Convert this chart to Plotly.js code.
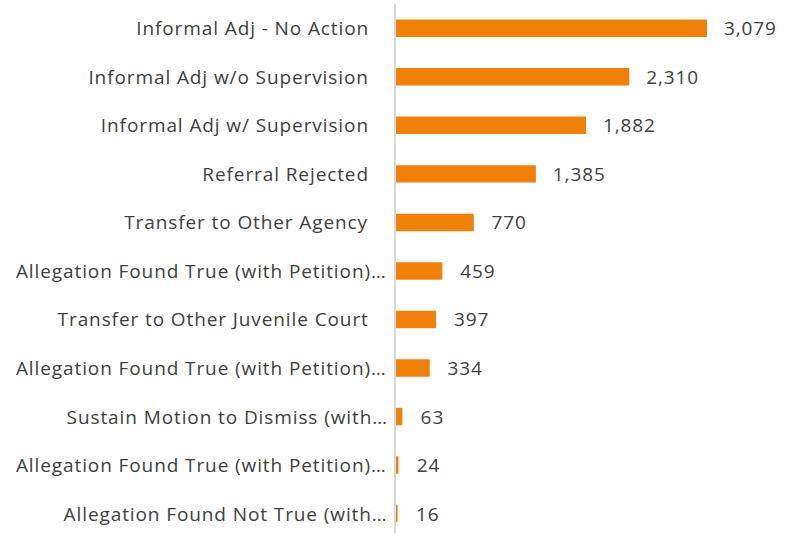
<!DOCTYPE html>
<html><head><meta charset="utf-8">
<script src="https://cdn.plot.ly/plotly-3.0.1.min.js"></script>
<style>html,body{margin:0;padding:0;background:#fff;}#chart{width:789px;height:533px;}
#chart svg text{letter-spacing:0.9px;}</style>
</head><body><div id="chart"></div>
<script>
// bottom to top
const categories = [
  "Allegation Found Not True (with…",
  "Allegation Found True (with Petition)…",
  "Sustain Motion to Dismiss (with…",
  "Allegation Found True (with Petition)… ",
  "Transfer to Other Juvenile Court",
  "Allegation Found True (with Petition)…  ",
  "Transfer to Other Agency",
  "Referral Rejected",
  "Informal Adj w/ Supervision",
  "Informal Adj w/o Supervision",
  "Informal Adj - No Action"
];
const values = [16, 24, 63, 334, 397, 459, 770, 1385, 1882, 2310, 3079];

const FONT = '"Open Sans", "Noto Sans", sans-serif';
const LS = 0.9; // css letter-spacing (px) not included in plotly's text measure

const trace = {
  type: 'bar',
  orientation: 'h',
  y: categories,
  x: values,
  width: 0.36,
  marker: {color: '#F0800A'},
  text: values.map(v => v.toLocaleString('en-US')),
  texttemplate: '   %{text}',
  textposition: 'outside',
  constraintext: 'none',
  cliponaxis: false,
  textfont: {family: FONT, size: 19, color: '#404040'},
  hoverinfo: 'none'
};

// category labels, truncated ones run closer to the axis (as in the source)
const annotations = categories.map(c => {
  const t = c.trim();
  const trunc = t.endsWith('…');
  return {
    xref: 'paper', yref: 'y', x: 0, y: c,
    text: t, showarrow: false, xanchor: 'right', yanchor: 'middle',
    xshift: (trunc ? -7 : -25) - t.length * LS / 2,
    font: {family: FONT, size: 19, color: '#404040'}
  };
});

const layout = {
  width: 789, height: 533,
  margin: {l: 396, r: 0, t: 4, b: 0},
  paper_bgcolor: '#fff', plot_bgcolor: '#fff',
  showlegend: false,
  font: {family: FONT, color: '#404040'},
  annotations: annotations,
  xaxis: {range: [0, 3891], showgrid: false, zeroline: false, showticklabels: false, showline: false, fixedrange: true},
  yaxis: {
    type: 'category', categoryorder: 'array', categoryarray: categories,
    range: [-0.4, 10.5],
    showgrid: false, zeroline: false,
    showline: true, linecolor: '#d9d9d9', linewidth: 2,
    ticks: '', showticklabels: false,
    fixedrange: true
  }
};
Plotly.newPlot('chart', [trace], layout, {displayModeBar: false, staticPlot: true});
</script></body></html>
